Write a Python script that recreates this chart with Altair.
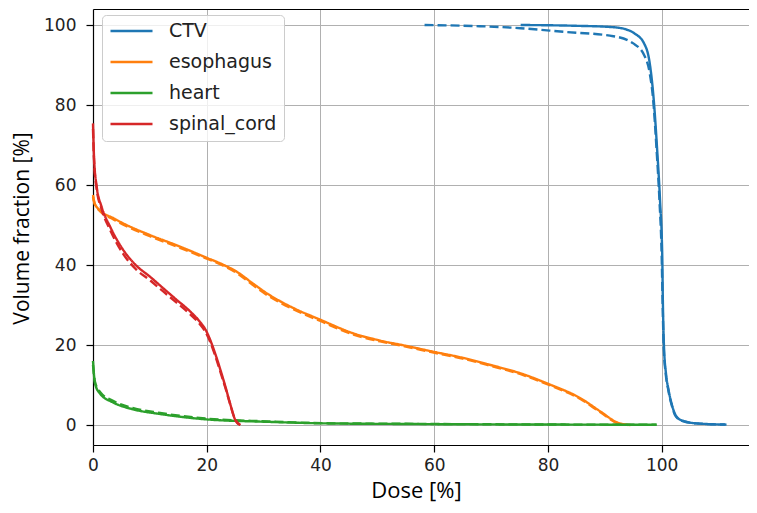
import altair as alt
import pandas as pd

structures = ["CTV", "esophagus", "heart", "spinal_cord"]
colors = ["#1f77b4", "#ff7f0e", "#2ca02c", "#d62728"]
x_ticks = [0, 20, 40, 60, 80, 100]
y_ticks = [0, 20, 40, 60, 80, 100]

# CTV
ctv_solid_dose = [75.2, 85.0, 91.0, 93.5, 95.2, 96.9, 97.9, 98.6, 99.2, 99.7, 100.1, 100.2, 100.4, 100.75, 101.2, 101.8, 102.6, 103.8, 106.2, 111.4]
ctv_solid_vol = [100.0, 99.8, 99.5, 99.0, 97.9, 95.4, 90.4, 81.3, 68.8, 56.3, 42.0, 31.3, 19.6, 12.9, 8.8, 5.0, 2.1, 1.0, 0.4, 0.1]
ctv_dash_dose = [58.3, 68.0, 75.2, 82.7, 91.5, 95.0, 96.9, 97.9, 98.5, 99.1, 99.6, 100.0, 100.15, 100.35, 100.7, 101.15, 101.75, 102.5, 103.7, 106.0, 111.2]
ctv_dash_vol = [100.0, 99.7, 99.2, 98.3, 97.2, 95.4, 92.5, 87.9, 81.3, 68.8, 56.3, 42.0, 31.3, 19.6, 12.9, 8.8, 5.0, 2.1, 1.0, 0.4, 0.1]

# esophagus
eso_solid_dose = [0.0, 0.3, 1.2, 3.6, 5.9, 10.0, 15.3, 20.0, 23.0, 25.3, 28.0, 30.6, 35.3, 40.0, 45.8, 50.5, 55.0, 59.9, 65.0, 69.9, 75.2, 80.2, 85.7, 89.3, 92.2, 94.0]
eso_solid_vol = [57.5, 55.4, 53.7, 51.7, 50.0, 47.5, 44.6, 41.8, 40.0, 38.3, 35.5, 32.9, 29.2, 26.3, 22.9, 21.1, 19.8, 18.3, 16.8, 15.0, 12.9, 10.2, 6.7, 3.3, 0.6, 0.0]
eso_dash_dose = [0.0, 0.3, 1.2, 3.6, 5.9, 10.0, 15.3, 20.0, 23.0, 25.3, 28.0, 30.6, 35.3, 40.0, 45.8, 50.5, 55.0, 59.9, 65.0, 69.9, 75.2, 80.2, 85.7, 89.3, 92.2, 94.5]
eso_dash_vol = [57.0, 55.2, 53.5, 51.4, 49.7, 47.2, 44.3, 41.6, 39.8, 38.0, 35.1, 32.5, 28.9, 26.0, 22.6, 20.9, 19.6, 18.1, 16.6, 14.8, 12.7, 10.0, 6.5, 3.1, 0.5, 0.0]

# heart
heart_solid_dose = [0.0, 0.35, 1.2, 3.6, 7.1, 11.8, 20.0, 30.6, 41.0, 55.0, 70.0, 85.0, 99.1]
heart_solid_vol = [16.0, 10.4, 7.9, 5.6, 3.9, 2.75, 1.4, 0.8, 0.4, 0.25, 0.15, 0.1, 0.05]
heart_dash_dose = [0.0, 0.35, 1.2, 3.6, 7.1, 11.8, 20.0, 30.6, 41.0, 55.0, 70.0, 85.0, 99.1]
heart_dash_vol = [15.0, 10.8, 8.3, 6.0, 4.2, 3.0, 1.6, 0.9, 0.45, 0.3, 0.18, 0.1, 0.05]

# spinal cord
cord_solid_dose = [0.0, 0.2, 0.65, 1.5, 3.0, 5.3, 7.5, 10.0, 12.5, 14.7, 17.0, 18.8, 19.8, 20.6, 21.5, 22.4, 23.3, 24.1, 25.0, 25.9]
cord_solid_vol = [75.4, 66.3, 59.6, 54.6, 49.6, 43.8, 40.0, 37.1, 34.0, 31.3, 28.5, 25.8, 23.8, 21.3, 17.8, 13.8, 9.5, 5.4, 1.3, 0.0]
cord_dash_dose = [0.0, 0.2, 0.65, 1.5, 3.0, 5.3, 7.5, 10.0, 12.5, 14.7, 17.0, 18.8, 19.8, 20.6, 21.5, 22.4, 23.3, 24.1, 25.0, 25.9]
cord_dash_vol = [74.0, 65.5, 59.0, 54.0, 48.8, 42.8, 39.0, 36.2, 33.2, 30.6, 27.8, 25.2, 23.2, 20.8, 17.3, 13.3, 9.2, 5.3, 1.4, 0.0]

series = [
    ("CTV", "solid", ctv_solid_dose, ctv_solid_vol),
    ("CTV", "dashed", ctv_dash_dose, ctv_dash_vol),
    ("esophagus", "solid", eso_solid_dose, eso_solid_vol),
    ("esophagus", "dashed", eso_dash_dose, eso_dash_vol),
    ("heart", "solid", heart_solid_dose, heart_solid_vol),
    ("heart", "dashed", heart_dash_dose, heart_dash_vol),
    ("spinal_cord", "solid", cord_solid_dose, cord_solid_vol),
    ("spinal_cord", "dashed", cord_dash_dose, cord_dash_vol),
]

rows = []
for name, plan, doses, vols in series:
    for i, (d, v) in enumerate(zip(doses, vols)):
        rows.append({"structure": name, "plan": plan, "dose": d, "vol": v, "idx": i})
df = pd.DataFrame(rows)

x_scale = alt.Scale(domain=[0, 115.35], nice=False, zero=False)
y_scale = alt.Scale(domain=[-5, 104], nice=False, zero=False)

x_axis = alt.Axis(
    values=x_ticks, grid=True, gridColor="#b0b0b0", gridWidth=1,
    domainColor="black", domainWidth=1.2, tickColor="black", tickWidth=1.2, tickSize=7,
    labelFont="DejaVu Sans", labelFontSize=17, labelColor="#222", labelPadding=5, labelFlush=False,
    title="Dose [%]", titleFont="Open Sans", titleFontSize=22, titleFontWeight="normal",
    titleColor="black", titleX=323, titleY=45, titleAlign="center", titleBaseline="middle",
)
y_axis = alt.Axis(
    values=y_ticks, grid=True, gridColor="#b0b0b0", gridWidth=1,
    domainColor="black", domainWidth=1.2, tickColor="black", tickWidth=1.2, tickSize=7,
    labelFont="DejaVu Sans", labelFontSize=17, labelColor="#222", labelPadding=10, labelFlush=False,
    title="Volume fraction [%]", titleFont="Open Sans", titleFontSize=21, titleFontWeight="normal",
    titleColor="black", titleX=-71, titleY=219, titleAngle=270, titleAlign="center", titleBaseline="middle",
)

legend = alt.Legend(
    title=None, orient="none", legendX=9, legendY=6,
    symbolType="stroke", symbolSize=1764, symbolStrokeWidth=2.3,
    labelFont="DejaVu Sans", labelFontSize=19, labelColor="#222", labelOffset=15,
    clipHeight=18, rowPadding=12, padding=7,
    fillColor="rgba(255,255,255,0.8)", strokeColor="#cccccc", cornerRadius=4,
)

lines = alt.Chart(df).mark_line(strokeWidth=2.4, interpolate="monotone").encode(
    x=alt.X("dose:Q", scale=x_scale, axis=x_axis),
    y=alt.Y("vol:Q", scale=y_scale, axis=y_axis),
    color=alt.Color("structure:N", scale=alt.Scale(domain=structures, range=colors), legend=legend),
    strokeDash=alt.StrokeDash("plan:N", scale=alt.Scale(domain=["solid", "dashed"], range=[[1, 0], [9, 4]]), legend=None),
    order="idx:Q",
)

top_frame = alt.Chart(df).mark_point(opacity=0).encode(
    x=alt.X("dose:Q", scale=x_scale, axis=alt.Axis(orient="top", labels=False, ticks=False, grid=False,
                                                    domain=True, domainColor="black", domainWidth=1.2, title=None)),
    y=alt.Y("vol:Q", scale=y_scale, axis=None),
)

chart = alt.layer(lines, top_frame).resolve_axis(x="independent", y="independent").properties(
    width=656, height=436,
    autosize=alt.AutoSizeParams(type="none"),
    padding={"left": 85, "top": 1, "right": 0, "bottom": 58},
    background="white",
).configure_view(stroke=None)

chart.save("out.html", embed_options={"renderer": "svg", "actions": False})
